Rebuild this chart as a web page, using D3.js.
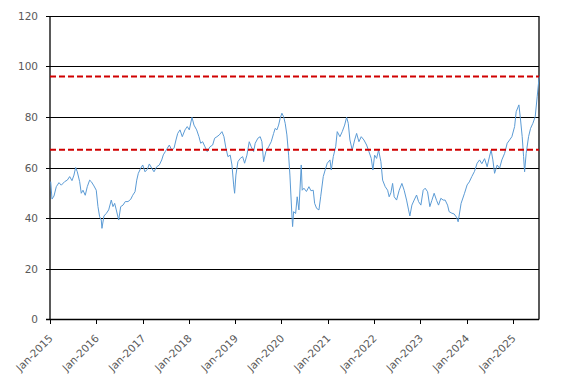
<!DOCTYPE html>
<html>
<head>
<meta charset="utf-8">
<script src="https://cdn.jsdelivr.net/npm/d3@7"></script>
<style>
  body { margin: 0; background: #fff; }
  svg { display: block; }
  text { font-family: "DejaVu Sans", Verdana, sans-serif; fill: #595959; }
</style>
</head>
<body>
<svg id="chart" width="567" height="383"></svg>
<script>
// series: decimal year / value
var years = [
  2015.015, 2015.043, 2015.086, 2015.136, 2015.194, 2015.244, 2015.317, 2015.374, 2015.425, 2015.475,
  2015.518, 2015.555, 2015.590, 2015.641, 2015.676, 2015.713, 2015.762, 2015.806, 2015.857, 2015.892,
  2015.950, 2016.000, 2016.037, 2016.073, 2016.108, 2016.123, 2016.166, 2016.216, 2016.268, 2016.324,
  2016.361, 2016.397, 2016.432, 2016.484, 2016.527, 2016.577, 2016.626, 2016.685, 2016.743, 2016.786,
  2016.836, 2016.873, 2016.907, 2016.959, 2017.002, 2017.052, 2017.102, 2017.145, 2017.197, 2017.246,
  2017.305, 2017.361, 2017.413, 2017.447, 2017.490, 2017.533, 2017.577, 2017.629, 2017.678, 2017.721,
  2017.758, 2017.808, 2017.857, 2017.916, 2017.965, 2018.009, 2018.067, 2018.110, 2018.168, 2018.218,
  2018.255, 2018.298, 2018.348, 2018.397, 2018.456, 2018.514, 2018.557, 2018.607, 2018.657, 2018.715,
  2018.758, 2018.801, 2018.844, 2018.894, 2018.931, 2018.968, 2018.989, 2019.017, 2019.060, 2019.110,
  2019.162, 2019.205, 2019.255, 2019.305, 2019.348, 2019.400, 2019.434, 2019.492, 2019.542, 2019.579,
  2019.616, 2019.665, 2019.724, 2019.780, 2019.832, 2019.866, 2019.903, 2019.940, 2019.974, 2020.011,
  2020.048, 2020.082, 2020.119, 2020.156, 2020.184, 2020.205, 2020.227, 2020.242, 2020.264, 2020.307,
  2020.341, 2020.378, 2020.428, 2020.449, 2020.486, 2020.540, 2020.594, 2020.637, 2020.687, 2020.717,
  2020.760, 2020.810, 2020.847, 2020.903, 2020.955, 2020.989, 2021.048, 2021.076, 2021.119, 2021.171,
  2021.205, 2021.263, 2021.313, 2021.365, 2021.408, 2021.443, 2021.479, 2021.529, 2021.581, 2021.624,
  2021.674, 2021.724, 2021.782, 2021.840, 2021.890, 2021.940, 2021.976, 2022.013, 2022.056, 2022.099,
  2022.149, 2022.186, 2022.242, 2022.294, 2022.328, 2022.365, 2022.402, 2022.436, 2022.488, 2022.544,
  2022.603, 2022.652, 2022.704, 2022.747, 2022.775, 2022.819, 2022.868, 2022.920, 2022.963, 2023.013,
  2023.063, 2023.106, 2023.158, 2023.207, 2023.251, 2023.300, 2023.352, 2023.395, 2023.445, 2023.495,
  2023.538, 2023.590, 2023.624, 2023.683, 2023.732, 2023.784, 2023.819, 2023.883, 2023.957, 2024.013,
  2024.060, 2024.114, 2024.173, 2024.229, 2024.281, 2024.330, 2024.389, 2024.445, 2024.497, 2024.531,
  2024.568, 2024.605, 2024.661, 2024.713, 2024.762, 2024.821, 2024.877, 2024.929, 2024.978, 2025.037,
  2025.071, 2025.130, 2025.166, 2025.201, 2025.231, 2025.253, 2025.287, 2025.339, 2025.382, 2025.432,
  2025.482, 2025.525, 2025.568
];
var values = [
  54.4, 47.5, 48.7, 52.4, 54.0, 53.0, 54.4, 55.0, 56.4, 54.8,
  57.0, 60.0, 58.3, 54.4, 49.8, 51.0, 49.0, 52.4, 55.0, 54.4,
  52.7, 51.0, 44.5, 40.5, 39.2, 35.9, 40.8, 41.8, 43.2, 47.1,
  44.5, 45.8, 43.2, 39.2, 44.5, 45.1, 46.5, 46.5, 47.4, 49.0,
  50.4, 55.0, 57.7, 59.7, 61.0, 58.3, 59.3, 61.4, 59.7, 58.3,
  60.3, 61.0, 63.0, 65.0, 66.3, 67.6, 68.9, 66.9, 67.6, 70.9,
  73.5, 74.9, 72.2, 74.9, 76.2, 74.9, 79.9, 76.8, 74.9, 72.2,
  69.6, 70.2, 68.2, 66.3, 68.2, 68.9, 71.6, 72.2, 72.9, 74.2,
  72.2, 67.6, 64.3, 64.9, 61.0, 53.1, 49.8, 57.0, 62.3, 63.6,
  64.3, 61.7, 64.9, 70.2, 68.2, 66.3, 69.6, 71.6, 72.2, 70.2,
  62.3, 66.3, 68.2, 70.2, 73.5, 75.5, 74.9, 76.8, 79.5, 81.5,
  80.1, 77.5, 72.9, 64.9, 57.0, 49.1, 41.2, 36.6, 42.5, 41.8,
  48.4, 43.2, 61.0, 51.0, 51.8, 50.5, 52.4, 50.8, 51.0, 45.8,
  43.8, 43.2, 48.4, 56.4, 59.7, 61.7, 63.0, 59.0, 64.3, 68.2,
  74.2, 72.2, 74.2, 76.8, 79.9, 77.5, 70.9, 66.9, 70.9, 73.5,
  70.2, 72.2, 70.9, 68.9, 66.3, 63.6, 59.0, 64.9, 63.6, 66.9,
  62.3, 55.0, 52.4, 51.0, 48.4, 50.0, 53.7, 48.4, 47.1, 51.0,
  53.7, 51.0, 47.1, 43.2, 40.8, 45.1, 47.1, 49.1, 46.5, 45.1,
  51.0, 51.8, 50.4, 44.5, 47.0, 49.8, 47.0, 45.1, 47.8, 47.1,
  47.1, 45.1, 42.5, 41.9, 41.6, 40.3, 38.5, 45.8, 49.8, 53.1,
  54.3, 56.4, 58.5, 61.7, 63.0, 61.5, 63.5, 60.3, 64.5, 66.9,
  63.0, 57.7, 61.0, 59.7, 63.0, 65.6, 69.6, 70.9, 72.2, 76.2,
  82.1, 84.8, 78.8, 72.2, 64.3, 58.3, 65.6, 72.2, 75.5, 77.5,
  80.1, 88.0, 96.0
];
var yTicks = [0, 20, 40, 60, 80, 100, 120];
var refLines = [96, 67];
var startDate = "2015-01-01";
var endDate = "2025-07-26";

function toDate(y) {
  var yr = Math.floor(y);
  var a = new Date(yr, 0, 1), b = new Date(yr + 1, 0, 1);
  return new Date(+a + (y - yr) * (b - a));
}

var data = years.map(function(y, i) { return { date: toDate(y), value: values[i] }; });

var svg = d3.select("#chart");
var mLeft = 50, mRight = 539, mTop = 16, mBottom = 319;

var x = d3.scaleTime()
  .domain([new Date(startDate + "T00:00"), new Date(endDate + "T00:00")])
  .range([mLeft, mRight]);
var y = d3.scaleLinear().domain([0, 120]).range([mBottom, mTop]);

// gridlines
svg.append("g").selectAll("line")
  .data(yTicks.filter(function(d) { return d > 0; }))
  .enter().append("line")
  .attr("x1", mLeft - 4).attr("x2", mRight)
  .attr("y1", function(d) { return Math.round(y(d)) + 0.5; })
  .attr("y2", function(d) { return Math.round(y(d)) + 0.5; })
  .attr("stroke", "#000").attr("stroke-width", 1);

// y labels
svg.append("g").selectAll("text")
  .data(yTicks)
  .enter().append("text")
  .attr("x", 38)
  .attr("y", function(d) { return Math.round(y(d)) + 4; })
  .attr("text-anchor", "end")
  .style("font-size", "10.5px")
  .text(function(d) { return d; });

// frame: left, right, bottom
var frame = svg.append("g").attr("stroke", "#000").attr("stroke-width", 1.3);
frame.append("line").attr("x1", mLeft).attr("x2", mLeft).attr("y1", mTop).attr("y2", mBottom + 0.5);
frame.append("line").attr("x1", mRight).attr("x2", mRight).attr("y1", mTop).attr("y2", mBottom + 0.5);
frame.append("line").attr("x1", mLeft - 4).attr("x2", mRight).attr("y1", mBottom + 0.5).attr("y2", mBottom + 0.5);

// x axis ticks and labels
var xTicks = d3.timeYear.range(new Date(2015, 0, 1), new Date(2025, 1, 1));
var fmt = d3.timeFormat("%b-%Y");
svg.append("g").selectAll("line")
  .data(xTicks).enter().append("line")
  .attr("x1", function(d) { return Math.round(x(d)) + 0.5; })
  .attr("x2", function(d) { return Math.round(x(d)) + 0.5; })
  .attr("y1", mBottom).attr("y2", mBottom + 5)
  .attr("stroke", "#000").attr("stroke-width", 1);

svg.append("g").selectAll("text")
  .data(xTicks).enter().append("text")
  .attr("text-anchor", "end")
  .style("font-size", "10.5px")
  .attr("transform", function(d) { return "translate(" + (x(d) + 3.5) + "," + 339 + ") rotate(-45)"; })
  .text(function(d) { return fmt(d); });

// series
var line = d3.line()
  .x(function(d) { return x(d.date); })
  .y(function(d) { return y(d.value); });

svg.append("path")
  .datum(data)
  .attr("fill", "none")
  .attr("stroke", "#5b9bd5")
  .attr("stroke-width", 1)
  .attr("stroke-linejoin", "round")
  .attr("d", line);

// reference lines
svg.append("g").selectAll("line")
  .data(refLines).enter().append("line")
  .attr("x1", mLeft).attr("x2", mRight)
  .attr("y1", function(d) { return y(d); })
  .attr("y2", function(d) { return y(d); })
  .attr("stroke", "#d00000")
  .attr("stroke-width", 2)
  .attr("stroke-dasharray", "6,3");
</script>
</body>
</html>
